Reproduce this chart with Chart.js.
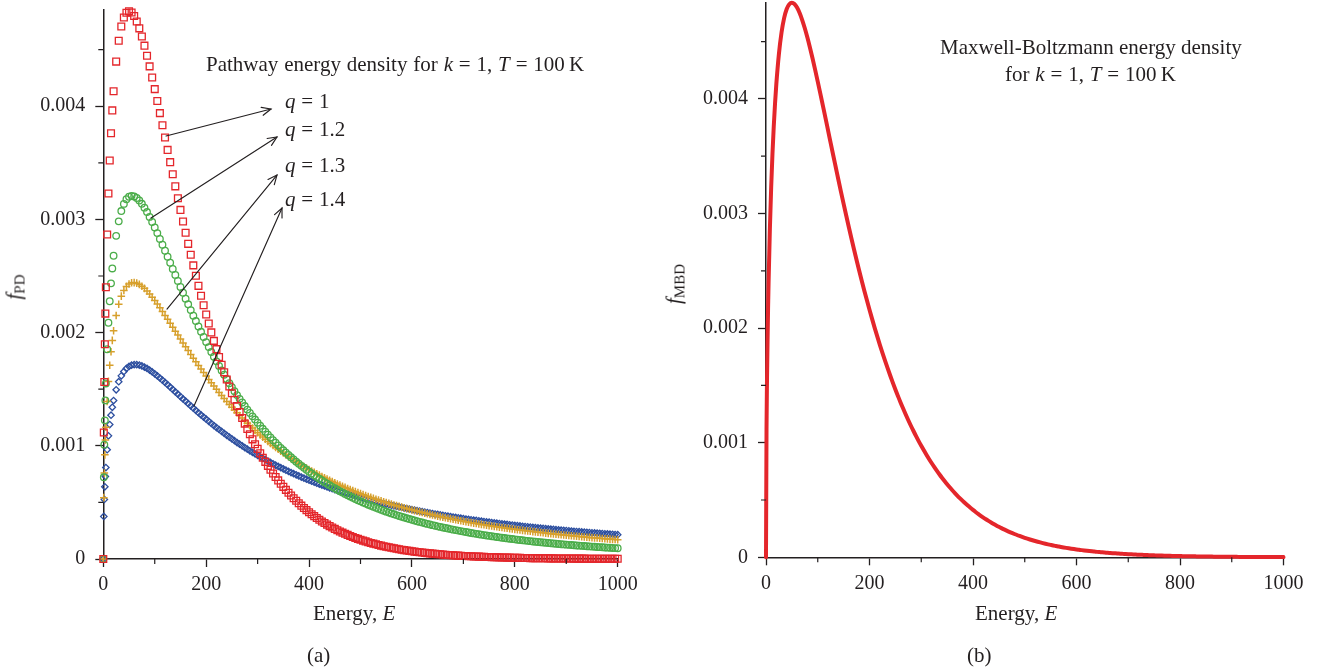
<!DOCTYPE html>
<html><head><meta charset="utf-8">
<script src="https://cdn.jsdelivr.net/npm/chart.js@4/dist/chart.umd.min.js"></script>
<style>
html,body{margin:0;padding:0;background:#fff;}
#wrap{position:relative;width:1320px;height:672px;overflow:hidden;background:#fff;font-family:"Liberation Serif","Times New Roman",serif;color:#231f20;}
canvas{position:absolute;top:0;}
.t{position:absolute;white-space:nowrap;font-size:21px;line-height:21px;}
.m{word-spacing:0.6px;}
.rot{position:absolute;white-space:nowrap;font-size:21px;line-height:21px;transform:translate(-50%,-50%) rotate(-90deg);}
.rot sub{font-size:15px;vertical-align:-4px;font-style:normal;}
</style></head>
<body><div id="wrap">
<canvas id="ca" width="660" height="672" style="left:0"></canvas>
<canvas id="cb" width="660" height="672" style="left:660px"></canvas>
<div class="t m" style="left:206px;top:54px">Pathway energy density for <i>k</i> = 1, <i>T</i> = 100&thinsp;K</div>
<div class="t m" style="left:285px;top:91px"><i>q</i> = 1</div>
<div class="t m" style="left:285px;top:119px"><i>q</i> = 1.2</div>
<div class="t m" style="left:285px;top:155px"><i>q</i> = 1.3</div>
<div class="t m" style="left:285px;top:189px"><i>q</i> = 1.4</div>
<div class="t" style="left:940px;top:37px">Maxwell-Boltzmann energy density</div>
<div class="t m" style="left:1005px;top:64px">for <i>k</i> = 1, <i>T</i> = 100&thinsp;K</div>
<div class="t" style="left:313px;top:603px">Energy, <i>E</i></div>
<div class="t" style="left:307px;top:645px">(a)</div>
<div class="t" style="left:975px;top:603px">Energy, <i>E</i></div>
<div class="t" style="left:967px;top:645px">(b)</div>
<div class="rot" style="left:17px;top:287px"><i>f</i><sub>PD</sub></div>
<div class="rot" style="left:677px;top:284px"><i>f</i><sub>MBD</sub></div>
</div>
<script>
// ---------- data ----------
const ENERGY = [0,1,2,3,4,5,7.5,10,12.5,15,17.5,20,
25,30,35,40,45,50,55,60,65,70,75,80,85,90,95,100,105,110,115,120,125,130,135,140,145,150,155,160,165,170,175,180,185,190,195,
200,205,210,215,220,225,230,235,240,245,250,255,260,265,270,275,280,285,290,295,
300,305,310,315,320,325,330,335,340,345,350,355,360,365,370,375,380,385,390,395,
400,405,410,415,420,425,430,435,440,445,450,455,460,465,470,475,480,485,490,495,
500,505,510,515,520,525,530,535,540,545,550,555,560,565,570,575,580,585,590,595,
600,605,610,615,620,625,630,635,640,645,650,655,660,665,670,675,680,685,690,695,
700,705,710,715,720,725,730,735,740,745,750,755,760,765,770,775,780,785,790,795,
800,805,810,815,820,825,830,835,840,845,850,855,860,865,870,875,880,885,890,895,
900,905,910,915,920,925,930,935,940,945,950,955,960,965,970,975,980,985,990,995,1000];

// q = 1 (same curve is the Maxwell-Boltzmann density of panel b)
const Q1 = [0,0.001117,0.001564,0.001897,0.002168,0.002400,0.002867,0.003229,0.003521,0.003761,0.003963,0.004132,
0.004394,0.004579,0.004704,0.004784,0.004826,0.004839,0.004828,0.004797,0.004749,0.004688,0.004616,0.004535,0.004446,0.004352,0.004253,0.004151,0.004046,0.003939,0.003832,0.003723,0.003614,0.003506,0.003399,0.003292,0.003187,0.003084,0.002982,0.002882,0.002784,0.002688,0.002594,0.002502,0.002413,0.002326,0.002242,
0.002160,0.002080,0.002002,0.001927,0.001854,0.001784,0.001716,0.001650,0.001586,0.001524,0.001464,0.001407,0.001351,0.001298,0.001246,0.001196,0.001148,0.001102,0.001057,0.001014,
0.0009731,0.0009333,0.0008950,0.0008582,0.0008227,0.0007888,0.0007560,0.0007246,0.0006943,0.0006654,0.0006375,0.0006107,0.0005849,0.0005603,0.0005365,0.0005139,0.0004921,0.0004712,0.0004510,0.0004318,
0.0004134,0.0003956,0.0003786,0.0003624,0.0003469,0.0003318,0.0003175,0.0003038,0.0002907,0.0002780,0.0002659,0.0002543,0.0002432,0.0002327,0.0002225,0.0002128,0.0002035,0.0001945,0.0001860,0.0001778,
0.0001700,0.0001625,0.0001554,0.0001485,0.0001420,0.0001357,0.0001297,0.0001239,0.0001184,0.0001132,0.0001082,0.0001033,0.0000988,0.0000944,0.0000901,0.0000861,0.0000823,0.0000786,0.0000751,0.0000717,
0.0000685,0.0000655,0.0000625,0.0000597,0.0000570,0.0000544,0.0000520,0.0000497,0.0000474,0.0000453,0.0000432,0.0000413,0.0000394,0.0000377,0.0000360,0.0000343,0.0000328,0.0000313,0.0000299,0.0000285,
0.0000272,0.0000260,0.0000248,0.0000237,0.0000226,0.0000216,0.0000206,0.0000197,0.0000188,0.0000179,0.0000171,0.0000163,0.0000156,0.0000149,0.0000142,0.0000135,0.0000129,0.0000123,0.0000118,0.0000112,
0.0000107,0.0000102,0.0000098,0.0000093,0.0000089,0.0000085,0.0000081,0.0000077,0.0000074,0.0000070,0.0000067,0.0000064,0.0000061,0.0000058,0.0000056,0.0000053,0.0000051,0.0000048,0.0000046,0.0000044,
0.0000042,0.0000040,0.0000038,0.0000036,0.0000035,0.0000033,0.0000032,0.0000030,0.0000029,0.0000027,0.0000026,0.0000025,0.0000024,0.0000023,0.0000022,0.0000021,0.0000020,0.0000019,0.0000018,0.0000017,0.0000016];

const Q12 = [0,0.0007216,0.001010,0.001225,0.001401,0.001551,0.001853,0.002087,0.002277,0.002435,0.002567,0.002679,
0.002855,0.002983,0.003074,0.003137,0.003178,0.003200,0.003208,0.003203,0.003189,0.003167,0.003138,0.003104,0.003065,0.003022,0.002977,0.002929,0.002879,0.002828,0.002776,0.002723,0.002670,0.002617,0.002563,0.002510,0.002457,0.002404,0.002352,0.002300,0.002250,0.002199,0.002150,0.002102,0.002054,0.002007,0.001961,
0.001916,0.001872,0.001829,0.001787,0.001746,0.001706,0.001666,0.001628,0.001590,0.001553,0.001518,0.001483,0.001448,0.001415,0.001383,0.001351,0.001320,0.001290,0.001260,0.001232,
0.001204,0.001177,0.001150,0.001124,0.001099,0.001074,0.001050,0.001027,0.001004,0.0009819,0.0009603,0.0009392,0.0009186,0.0008985,0.0008790,0.0008599,0.0008413,0.0008231,0.0008056,0.0007882,
0.0007714,0.0007550,0.0007390,0.0007234,0.0007083,0.0006933,0.0006789,0.0006647,0.0006511,0.0006375,0.0006244,0.0006116,0.0005991,0.0005869,0.0005751,0.0005634,0.0005522,0.0005409,0.0005303,0.0005196,
0.0005093,0.0004992,0.0004893,0.0004798,0.0004703,0.0004612,0.0004522,0.0004436,0.0004349,0.0004267,0.0004184,0.0004105,0.0004027,0.0003951,0.0003877,0.0003804,0.0003732,0.0003664,0.0003595,0.0003529,
0.0003463,0.0003400,0.0003337,0.0003277,0.0003218,0.0003160,0.0003102,0.0003047,0.0002992,0.0002939,0.0002886,0.0002836,0.0002784,0.0002737,0.0002688,0.0002642,0.0002594,0.0002551,0.0002508,0.0002464,
0.0002422,0.0002380,0.0002340,0.0002300,0.0002263,0.0002223,0.0002186,0.0002149,0.0002113,0.0002078,0.0002044,0.0002010,0.0001977,0.0001945,0.0001913,0.0001882,0.0001850,0.0001821,0.0001792,0.0001763,
0.0001734,0.0001707,0.0001680,0.0001653,0.0001626,0.0001602,0.0001575,0.0001552,0.0001527,0.0001504,0.0001479,0.0001458,0.0001434,0.0001414,0.0001391,0.0001371,0.0001349,0.0001330,0.0001309,0.0001290,
0.0001268,0.0001252,0.0001231,0.0001215,0.0001196,0.0001179,0.0001160,0.0001145,0.0001126,0.0001111,0.0001094,0.0001079,0.0001064,0.0001049,0.0001033,0.0001019,0.0001004,0.0000990,0.0000977,0.0000962,0.0000950];

const Q13 = [0,0.0005420,0.0007590,0.0009203,0.001052,0.001165,0.001392,0.001569,0.001712,0.001831,0.001931,0.002016,
0.002151,0.002250,0.002322,0.002373,0.002408,0.002430,0.002440,0.002442,0.002437,0.002426,0.002410,0.002391,0.002367,0.002341,0.002313,0.002283,0.002252,0.002219,0.002186,0.002152,0.002117,0.002083,0.002048,0.002013,0.001978,0.001943,0.001909,0.001875,0.001841,0.001807,0.001774,0.001742,0.001709,0.001678,0.001647,
0.001616,0.001586,0.001557,0.001528,0.001499,0.001471,0.001444,0.001417,0.001391,0.001365,0.001340,0.001316,0.001292,0.001268,0.001245,0.001222,0.001200,0.001178,0.001157,0.001136,
0.001116,0.001096,0.001077,0.001058,0.001039,0.001021,0.001003,0.0009859,0.0009689,0.0009522,0.0009359,0.0009199,0.0009043,0.0008890,0.0008740,0.0008594,0.0008451,0.0008310,0.0008174,0.0008038,
0.0007907,0.0007777,0.0007652,0.0007528,0.0007407,0.0007288,0.0007172,0.0007058,0.0006948,0.0006838,0.0006732,0.0006626,0.0006525,0.0006423,0.0006325,0.0006228,0.0006134,0.0006040,0.0005950,0.0005860,
0.0005773,0.0005687,0.0005603,0.0005520,0.0005441,0.0005360,0.0005283,0.0005206,0.0005132,0.0005058,0.0004987,0.0004915,0.0004847,0.0004777,0.0004712,0.0004645,0.0004582,0.0004517,0.0004456,0.0004394,
0.0004335,0.0004275,0.0004219,0.0004161,0.0004106,0.0004050,0.0003997,0.0003944,0.0003892,0.0003841,0.0003791,0.0003742,0.0003693,0.0003646,0.0003599,0.0003553,0.0003508,0.0003464,0.0003420,0.0003377,
0.0003334,0.0003293,0.0003252,0.0003212,0.0003172,0.0003134,0.0003094,0.0003058,0.0003020,0.0002984,0.0002948,0.0002913,0.0002878,0.0002844,0.0002810,0.0002778,0.0002745,0.0002713,0.0002681,0.0002651,
0.0002620,0.0002590,0.0002560,0.0002531,0.0002502,0.0002474,0.0002446,0.0002419,0.0002393,0.0002365,0.0002340,0.0002313,0.0002288,0.0002262,0.0002238,0.0002213,0.0002191,0.0002165,0.0002143,0.0002119,
0.0002097,0.0002074,0.0002053,0.0002030,0.0002009,0.0001988,0.0001968,0.0001947,0.0001927,0.0001906,0.0001888,0.0001867,0.0001849,0.0001829,0.0001811,0.0001792,0.0001774,0.0001756,0.0001738,0.0001721,0.0001704];

const Q14 = [0,0.0003757,0.0005261,0.0006380,0.0007294,0.0008076,0.0009652,0.001088,0.001188,0.001270,0.001340,0.001400,
0.001495,0.001566,0.001618,0.001656,0.001683,0.001701,0.001712,0.001717,0.001717,0.001713,0.001706,0.001695,0.001683,0.001669,0.001653,0.001636,0.001618,0.001599,0.001580,0.001560,0.001540,0.001519,0.001498,0.001477,0.001456,0.001435,0.001414,0.001394,0.001373,0.001353,0.001332,0.001312,0.001292,0.001273,0.001254,
0.001235,0.001216,0.001197,0.001179,0.001161,0.001144,0.001127,0.001110,0.001093,0.001077,0.001061,0.001045,0.001029,0.001014,0.0009994,0.0009847,0.0009704,0.0009562,0.0009425,0.0009289,
0.0009156,0.0009025,0.0008897,0.0008771,0.0008648,0.0008527,0.0008409,0.0008292,0.0008178,0.0008066,0.0007956,0.0007848,0.0007742,0.0007638,0.0007537,0.0007436,0.0007338,0.0007242,0.0007147,0.0007054,
0.0006963,0.0006873,0.0006786,0.0006699,0.0006614,0.0006531,0.0006449,0.0006369,0.0006290,0.0006212,0.0006136,0.0006061,0.0005988,0.0005916,0.0005844,0.0005775,0.0005706,0.0005639,0.0005573,0.0005507,
0.0005443,0.0005380,0.0005318,0.0005258,0.0005197,0.0005139,0.0005081,0.0005024,0.0004967,0.0004913,0.0004858,0.0004805,0.0004752,0.0004701,0.0004650,0.0004600,0.0004550,0.0004502,0.0004454,0.0004407,
0.0004360,0.0004315,0.0004270,0.0004226,0.0004182,0.0004140,0.0004098,0.0004056,0.0004015,0.0003974,0.0003935,0.0003895,0.0003857,0.0003818,0.0003781,0.0003744,0.0003707,0.0003672,0.0003636,0.0003601,
0.0003566,0.0003533,0.0003499,0.0003466,0.0003434,0.0003402,0.0003370,0.0003339,0.0003307,0.0003278,0.0003248,0.0003218,0.0003189,0.0003160,0.0003132,0.0003104,0.0003076,0.0003049,0.0003022,0.0002995,
0.0002969,0.0002943,0.0002917,0.0002892,0.0002867,0.0002843,0.0002818,0.0002794,0.0002770,0.0002747,0.0002724,0.0002702,0.0002679,0.0002657,0.0002635,0.0002613,0.0002591,0.0002571,0.0002549,0.0002529,
0.0002508,0.0002488,0.0002468,0.0002449,0.0002429,0.0002410,0.0002391,0.0002372,0.0002354,0.0002335,0.0002317,0.0002299,0.0002281,0.0002264,0.0002246,0.0002229,0.0002212,0.0002196,0.0002179,0.0002163,0.0002147];

const SERIES_LABELS = ['q = 1', 'q = 1.2', 'q = 1.3', 'q = 1.4'];
const X_MIN = 0, X_MAX = 1000, X_STEP = 200;
const X_MINOR_TICKS = [100, 300, 500, 700, 900];
const Y_STEP = 0.001;
const Y_MAX_A = 0.00485, Y_MAX_B = 0.00484;
const Y_MINOR_TICKS = [0.0005, 0.0015, 0.0025, 0.0035, 0.0045];
// annotation arrows in data coordinates: [fromE, fromF, toE, toF]
const ARROWS = [
  [122, 0.003737, 326, 0.003975],
  [92.7, 0.003012, 337.6, 0.003728],
  [123.8, 0.002208, 337.6, 0.003392],
  [176.3, 0.001352, 347.4, 0.003101]
];

// ---------- rendering ----------
const INK = '#231f20';
const TICK_FONT = {family: "'Liberation Serif','Times New Roman',serif", size: 20};
Chart.defaults.font.family = TICK_FONT.family;

function pts(ys) { return ENERGY.map((e, i) => ({x: e, y: ys[i]})); }

function xScale(h) {
  return {
    type: 'linear', min: X_MIN, max: X_MAX,
    ticks: {stepSize: X_STEP, color: INK, font: TICK_FONT, padding: 6, maxRotation: 0, autoSkip: false, includeBounds: false,
            callback: v => String(Math.round(v))},
    grid: {display: true, drawOnChartArea: false, drawTicks: true, tickLength: 8, tickColor: INK, tickWidth: 1.3},
    border: {display: true, color: INK, width: 1.5},
    afterFit(s) { s.height = h; s.paddingLeft = 0; s.paddingRight = 0; }
  };
}
function yScale(w, max) {
  return {
    type: 'linear', min: 0, max: max,
    ticks: {stepSize: Y_STEP, color: INK, font: TICK_FONT, padding: 10, includeBounds: false,
            callback: v => Math.abs(v) < 1e-12 ? '0' : v.toFixed(3)},
    grid: {display: true, drawOnChartArea: false, drawTicks: true, tickLength: 8, tickColor: INK, tickWidth: 1.3},
    border: {display: true, color: INK, width: 1.5},
    afterFit(s) { s.width = w; s.paddingTop = 0; s.paddingBottom = 0; }
  };
}

const minorTicks = {
  id: 'minorTicks',
  afterDraw(chart) {
    const {ctx, chartArea: a, scales: {x, y}} = chart;
    ctx.save(); ctx.strokeStyle = INK; ctx.lineWidth = 1.2; ctx.beginPath();
    X_MINOR_TICKS.forEach(v => { const px = x.getPixelForValue(v); ctx.moveTo(px, a.bottom); ctx.lineTo(px, a.bottom + 5); });
    Y_MINOR_TICKS.forEach(v => { const py = y.getPixelForValue(v); ctx.moveTo(a.left, py); ctx.lineTo(a.left - 5, py); });
    ctx.stroke(); ctx.restore();
  }
};

const arrowPlugin = {
  id: 'arrows',
  afterDatasetsDraw(chart) {
    const {ctx, scales: {x, y}} = chart;
    ctx.save(); ctx.strokeStyle = INK; ctx.lineWidth = 1.15; ctx.lineCap = 'round';
    ARROWS.forEach(a => {
      const x1 = x.getPixelForValue(a[0]), y1 = y.getPixelForValue(a[1]);
      const x2 = x.getPixelForValue(a[2]), y2 = y.getPixelForValue(a[3]);
      ctx.beginPath(); ctx.moveTo(x1, y1); ctx.lineTo(x2, y2); ctx.stroke();
      const ang = Math.atan2(y2 - y1, x2 - x1), L = 10, w = 0.42;
      ctx.beginPath();
      ctx.moveTo(x2 - L * Math.cos(ang - w), y2 - L * Math.sin(ang - w));
      ctx.lineTo(x2, y2);
      ctx.lineTo(x2 - L * Math.cos(ang + w), y2 - L * Math.sin(ang + w));
      ctx.stroke();
    });
    ctx.restore();
  }
};

const common = {
  responsive: false, animation: false, devicePixelRatio: 1,
  plugins: {legend: {display: false}, tooltip: {enabled: false}}
};

new Chart(document.getElementById('ca'), {
  type: 'scatter',
  data: {datasets: [
    {label: SERIES_LABELS[0], data: pts(Q1), pointStyle: 'rect', pointRadius: 4.8, borderColor: '#e4262b', backgroundColor: 'rgba(0,0,0,0)', pointBorderWidth: 1.3, borderWidth: 1.3, clip: false},
    {label: SERIES_LABELS[1], data: pts(Q12), pointStyle: 'circle', pointRadius: 3.3, borderColor: '#4bad4a', backgroundColor: 'rgba(0,0,0,0)', pointBorderWidth: 1.3, borderWidth: 1.3, clip: false},
    {label: SERIES_LABELS[2], data: pts(Q13), pointStyle: 'cross', pointRadius: 3.8, borderColor: '#d7a02c', backgroundColor: 'rgba(0,0,0,0)', pointBorderWidth: 1.5, borderWidth: 1.5, clip: false},
    {label: SERIES_LABELS[3], data: pts(Q14), pointStyle: 'rectRot', pointRadius: 3.2, borderColor: '#2c4e9f', backgroundColor: 'rgba(0,0,0,0)', pointBorderWidth: 1.3, borderWidth: 1.3, clip: false}
  ]},
  options: Object.assign({}, common, {
    layout: {padding: {left: 0, top: 10, right: 42.3, bottom: 0}},
    scales: {x: xScale(113), y: yScale(103.3, Y_MAX_A)}
  }),
  plugins: [minorTicks, arrowPlugin]
});

new Chart(document.getElementById('cb'), {
  type: 'line',
  data: {datasets: [
    {label: 'Maxwell-Boltzmann', data: pts(Q1), borderColor: '#e4262b', borderWidth: 4, pointRadius: 0, fill: false,
     cubicInterpolationMode: 'monotone', borderJoinStyle: 'round', borderCapStyle: 'round', clip: false}
  ]},
  options: Object.assign({}, common, {
    layout: {padding: {left: 0, top: 2.6, right: 36.5, bottom: 0}},
    scales: {x: xScale(114.7), y: yScale(106, Y_MAX_B)}
  }),
  plugins: [minorTicks]
});
</script>
</body></html>
